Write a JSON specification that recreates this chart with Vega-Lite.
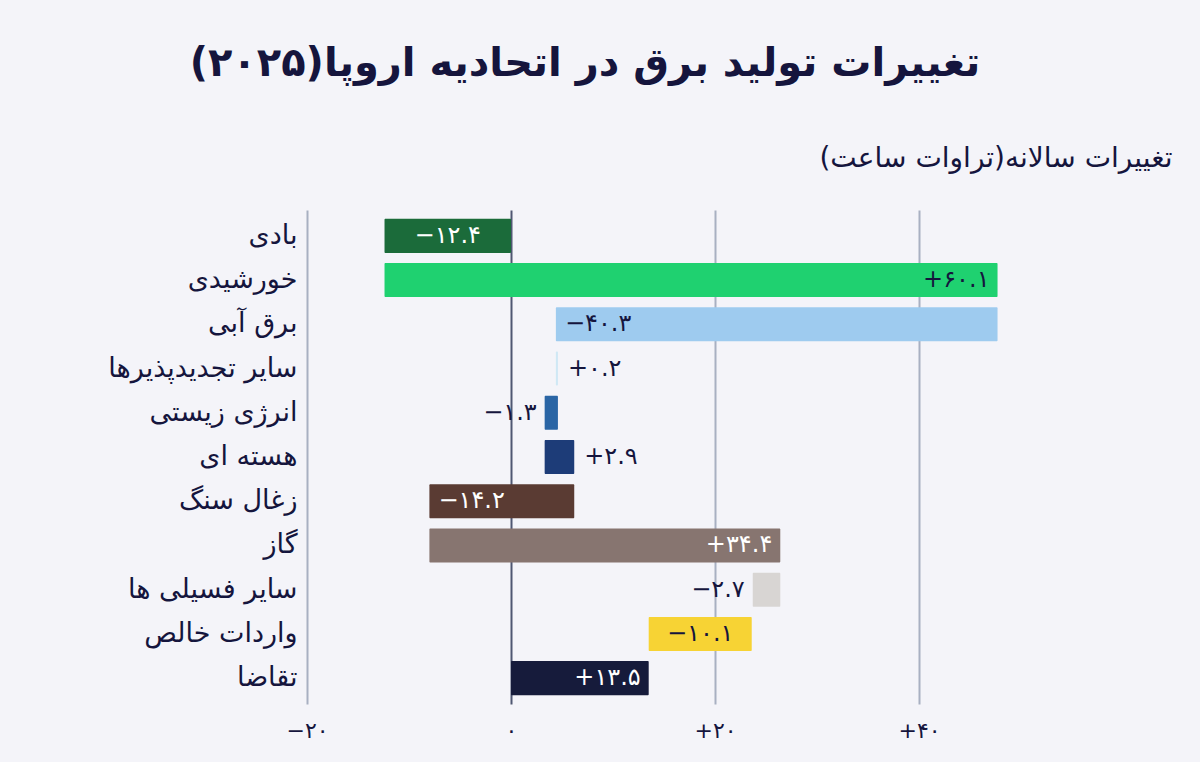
{
  "$schema": "https://vega.github.io/schema/vega-lite/v6.json",
  "autosize": {"type": "none"},
  "width": 714,
  "height": 494,
  "padding": {"left": 307, "top": 210, "right": 179, "bottom": 58},
  "background": "#f4f4f9",
  "title": {
    "text": "تغییرات تولید برق در اتحادیه اروپا(۲۰۲۵)",
    "anchor": "middle",
    "frame": "group",
    "dx": -79,
    "offset": 60,
    "fontSize": 40,
    "fontWeight": "bold",
    "font": "DejaVu Sans",
    "color": "#15153d"
  },
  "config": {
    "view": {"stroke": null},
    "font": "DejaVu Sans",
    "text": {"fontSize": 24, "baseline": "middle"}
  },
  "data": {
    "values": [
      {"category": "بادی", "start": 0, "end": -12.4, "label": "−۱۲.۴"},
      {"category": "خورشیدی", "start": -12.4, "end": 47.7, "label": "+۶۰.۱"},
      {"category": "برق آبی", "start": 47.7, "end": 4.4, "label": "−۴۰.۳"},
      {"category": "سایر تجدیدپذیرها", "start": 4.4, "end": 4.6, "label": "+۰.۲"},
      {"category": "انرژی زیستی", "start": 4.6, "end": 3.3, "label": "−۱.۳"},
      {"category": "هسته ای", "start": 3.3, "end": 6.2, "label": "+۲.۹"},
      {"category": "زغال سنگ", "start": 6.2, "end": -8.0, "label": "−۱۴.۲"},
      {"category": "گاز", "start": -8.0, "end": 26.4, "label": "+۳۴.۴"},
      {"category": "سایر فسیلی ها", "start": 26.4, "end": 23.7, "label": "−۲.۷"},
      {"category": "واردات خالص", "start": 23.6, "end": 13.5, "label": "−۱۰.۱"},
      {"category": "تقاضا", "start": 13.5, "end": 0, "label": "+۱۳.۵"}
    ]
  },
  "transform": [
    {"calculate": "min(datum.start, datum.end)", "as": "lo"},
    {"calculate": "max(datum.start, datum.end)", "as": "hi"},
    {"calculate": "(datum.start + datum.end) / 2", "as": "mid"}
  ],
  "encoding": {
    "y": {
      "field": "category",
      "type": "nominal",
      "sort": null,
      "scale": {"paddingInner": 0.23, "paddingOuter": 0.2},
      "axis": {
        "title": "تغییرات سالانه(تراوات ساعت)",
        "titleAngle": 0,
        "titleAlign": "right",
        "titleBaseline": "middle",
        "titleX": 865,
        "titleY": -52,
        "titleFontSize": 28,
        "titleFontWeight": "normal",
        "titleColor": "#15153d",
        "domain": false,
        "ticks": false,
        "labelFontSize": 27,
        "labelColor": "#15153d",
        "labelPadding": 10,
        "labelLimit": 300
      }
    },
    "text": {"field": "label", "type": "nominal"}
  },
  "layer": [
    {
      "mark": {"type": "bar", "cornerRadius": 1},
      "encoding": {
        "x": {
          "field": "start",
          "type": "quantitative",
          "scale": {"domain": [-20, 50], "nice": false},
          "axis": {
            "title": null,
            "values": [-20, 0, 20, 40],
            "grid": true,
            "gridColor": {"condition": {"test": "datum.value === 0", "value": "#4f5772"}, "value": "#a8b0c2"},
            "gridWidth": 2,
            "domain": false,
            "ticks": false,
            "labelFlush": false,
            "labelFontSize": 22,
            "labelColor": "#15153d",
            "labelPadding": 16,
            "labelExpr": "datum.value == -20 ? '−۲۰' : datum.value == 0 ? '۰' : datum.value == 20 ? '+۲۰' : '+۴۰'"
          }
        },
        "x2": {"field": "end"},
        "text": null,
        "color": {
          "field": "category",
          "type": "nominal",
          "legend": null,
          "scale": {
            "domain": ["بادی", "خورشیدی", "برق آبی", "سایر تجدیدپذیرها", "انرژی زیستی", "هسته ای", "زغال سنگ", "گاز", "سایر فسیلی ها", "واردات خالص", "تقاضا"],
            "range": ["#1b6b3a", "#1fd170", "#9ecbef", "#cfe8f5", "#2a65a5", "#1d3c78", "#5a3b33", "#877570", "#d8d5d3", "#f7d334", "#161b3b"]
          }
        }
      }
    },
    {
      "transform": [{"filter": {"field": "category", "oneOf": ["بادی", "واردات خالص"]}}],
      "mark": {"type": "text", "align": "center"},
      "encoding": {
        "x": {"field": "mid", "type": "quantitative"},
        "color": {"condition": {"test": "datum.category === 'بادی'", "value": "#ffffff"}, "value": "#15153d"}
      }
    },
    {
      "transform": [{"filter": {"field": "category", "oneOf": ["برق آبی", "زغال سنگ"]}}],
      "mark": {"type": "text", "align": "left", "dx": 9},
      "encoding": {
        "x": {"field": "lo", "type": "quantitative"},
        "color": {"condition": {"test": "datum.category === 'زغال سنگ'", "value": "#ffffff"}, "value": "#15153d"}
      }
    },
    {
      "transform": [{"filter": {"field": "category", "oneOf": ["خورشیدی", "گاز", "تقاضا"]}}],
      "mark": {"type": "text", "align": "right", "dx": -8},
      "encoding": {
        "x": {"field": "hi", "type": "quantitative"},
        "color": {"condition": {"test": "datum.category !== 'خورشیدی'", "value": "#ffffff"}, "value": "#15153d"}
      }
    },
    {
      "transform": [{"filter": {"field": "category", "oneOf": ["سایر تجدیدپذیرها", "هسته ای"]}}],
      "mark": {"type": "text", "align": "left", "dx": 10, "color": "#15153d"},
      "encoding": {"x": {"field": "hi", "type": "quantitative"}}
    },
    {
      "transform": [{"filter": {"field": "category", "oneOf": ["انرژی زیستی", "سایر فسیلی ها"]}}],
      "mark": {"type": "text", "align": "right", "dx": -8, "color": "#15153d"},
      "encoding": {"x": {"field": "lo", "type": "quantitative"}}
    }
  ]
}
